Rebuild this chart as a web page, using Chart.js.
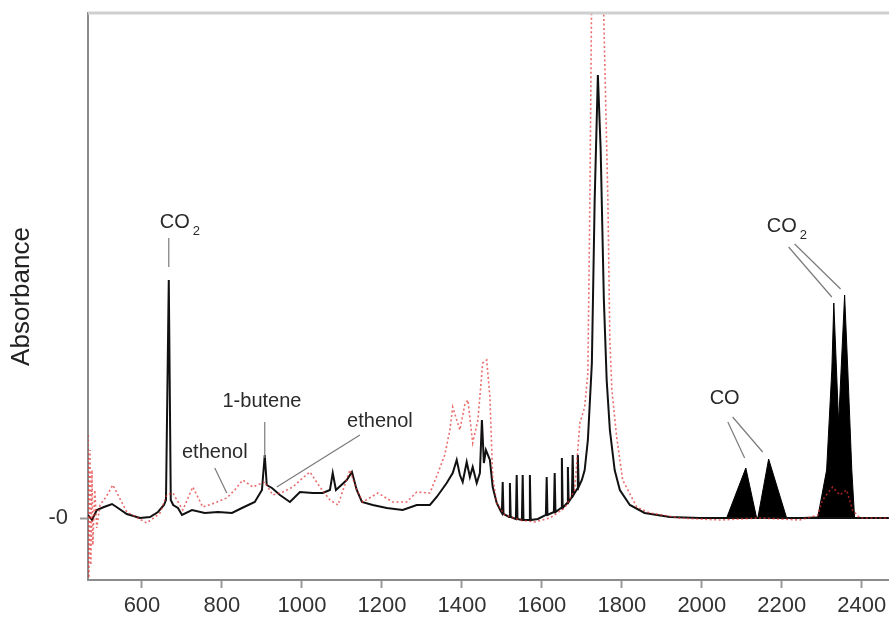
<!DOCTYPE html>
<html>
<head>
<meta charset="utf-8">
<script src="https://cdn.jsdelivr.net/npm/chart.js@4.4.0/dist/chart.umd.min.js"></script>
<style>
  html, body { margin: 0; padding: 0; background: #fff; }
  #wrap { width: 889px; height: 621px; position: relative; }
</style>
</head>
<body>
<div id="wrap"><canvas id="spectrum"></canvas></div>
<script>
/* ─── Data ───────────────────────────────────────────────────────────────── */
// black trace (wavenumber / absorbance)
const BLACK_WN = [465, 475, 487, 505, 525, 540, 562, 595, 620, 640, 655, 660, 667, 672, 678, 690, 700,
  725, 757, 790, 825, 850, 882, 900, 907, 912, 925, 945, 970, 995, 1027, 1052, 1070, 1077, 1085,
  1112, 1125, 1137, 1150, 1177, 1212, 1252, 1287, 1320, 1337, 1362, 1377, 1387, 1395, 1402, 1412,
  1420, 1427, 1437, 1445, 1450, 1455, 1460, 1470, 1477, 1487, 1497, 1500, 1502, 1504, 1518, 1520,
  1522, 1535, 1537, 1539, 1550, 1552, 1554, 1568, 1570, 1572, 1590, 1610, 1612, 1614, 1630, 1632,
  1634, 1648, 1650, 1652, 1663, 1665, 1667, 1675, 1677, 1679, 1688, 1690, 1692, 1700, 1707, 1715,
  1725, 1732, 1740, 1747, 1755, 1762, 1770, 1782, 1795, 1820, 1857, 1920, 1995, 2100, 2200, 2300,
  2400, 2468];
const BLACK_A = [0.03, -0.02, 0.08, 0.11, 0.14, 0.10, 0.04, 0.00, 0.01, 0.06, 0.13, 0.18, 2.38, 0.18, 0.13, 0.10, 0.03,
  0.08, 0.05, 0.06, 0.05, 0.10, 0.16, 0.28, 0.63, 0.33, 0.30, 0.23, 0.16, 0.26, 0.25, 0.25, 0.28, 0.45, 0.28,
  0.38, 0.46, 0.28, 0.16, 0.13, 0.10, 0.08, 0.13, 0.13, 0.21, 0.35, 0.45, 0.58, 0.43, 0.36, 0.56,
  0.41, 0.51, 0.35, 0.45, 0.98, 0.55, 0.68, 0.58, 0.31, 0.15, 0.07, 0.05, 0.36, 0.04, 0.01, 0.35,
  0.01, -0.01, 0.43, -0.01, -0.02, 0.43, -0.02, -0.02, 0.43, -0.02, -0.01, 0.03, 0.41, 0.03, 0.06, 0.45,
  0.06, 0.10, 0.60, 0.10, 0.15, 0.51, 0.16, 0.21, 0.63, 0.23, 0.29, 0.63, 0.31, 0.38, 0.48, 0.78,
  1.55, 3.18, 4.43, 3.68, 2.18, 1.38, 0.88, 0.48, 0.28, 0.13, 0.05, 0.01, 0.00, 0.00, 0.00, 0.00,
  0.00, 0.00];

// red dotted trace
const RED_WN = [465, 467, 470, 472, 475, 477, 482, 487, 495, 510, 527, 540, 562, 612, 645, 662, 677,
  702, 727, 752, 782, 812, 832, 852, 877, 907, 927, 952, 977, 1002, 1020, 1045, 1070, 1090, 1120,
  1137, 1152, 1190, 1227, 1262, 1287, 1320, 1340, 1357, 1370, 1377, 1387, 1395, 1407, 1415, 1427,
  1440, 1452, 1462, 1470, 1477, 1487, 1507, 1545, 1582, 1620, 1657, 1682, 1695, 1707, 1715, 1720,
  1725, 1737, 1752, 1765, 1770, 1775, 1787, 1802, 1837, 1870, 1945, 2045, 2145, 2245, 2290, 2302,
  2327, 2345, 2362, 2377, 2395, 2468];
const RED_A = [0.83, -0.60, 0.68, -0.47, 0.48, -0.27, 0.28, -0.10, 0.13, 0.21, 0.33, 0.23, 0.06, -0.05, 0.05, 0.23, 0.25,
  0.08, 0.31, 0.11, 0.15, 0.20, 0.28, 0.38, 0.31, 0.36, 0.23, 0.26, 0.31, 0.40, 0.46, 0.31, 0.18, 0.13, 0.48,
  0.28, 0.16, 0.25, 0.16, 0.16, 0.26, 0.25, 0.45, 0.63, 0.88, 1.11, 0.98, 0.88, 1.13, 1.18, 0.75,
  0.98, 1.55, 1.58, 1.21, 0.41, 0.15, 0.03, -0.02, -0.04, 0.00, 0.10, 0.28, 0.95, 1.11, 1.45, 3.18,
  5.50, 6.20, 5.50, 3.18, 1.78, 1.28, 0.81, 0.38, 0.11, 0.05, 0.00, -0.02, 0.00, -0.02, 0.03, 0.18,
  0.31, 0.23, 0.28, 0.08, 0.00, 0.00];

// CO and CO2 rotational bands (drawn filled)
const BAND_WN = [2062, 2110, 2137, 2140, 2167, 2212, 2290, 2312, 2325, 2330, 2342, 2357, 2365, 2375, 2382];
const BAND_A  = [0.00, 0.50, 0.00, 0.00, 0.59, 0.00, 0.01, 0.48, 1.48, 2.15, 0.95, 2.23, 1.48, 0.48, 0.00];

const X_TICKS = [600, 800, 1000, 1200, 1400, 1600, 1800, 2000, 2200, 2400];
const Y_TICKS = [0];

// peak labels: text anchor and leader lines, in data units
const LABELS = [
  { text: 'CO', sub: '2', at: [682, 2.96], lines: [[[667, 2.80], [667, 2.51]]] },
  { text: 'ethenol',      at: [782, 0.66], lines: [[[782, 0.50], [812, 0.25]]] },
  { text: '1-butene',     at: [900, 1.17], lines: [[[907, 0.96], [907, 0.60]]] },
  { text: 'ethenol',      at: [1195, 0.97], lines: [[[1145, 0.83], [937, 0.31]]] },
  { text: 'CO',           at: [2057, 1.20], lines: [[[2065, 0.96], [2107, 0.60]], [[2077, 1.01], [2152, 0.66]]] },
  { text: 'CO', sub: '2', at: [2200, 2.92], lines: [[[2217, 2.71], [2325, 2.21]], [[2232, 2.74], [2347, 2.29]]] }
];

/* ─── Helpers ────────────────────────────────────────────────────────────── */
const FONT = 'Arial, "Liberation Sans", sans-serif';
const pts  = (xs, ys) => xs.map((x, i) => ({ x, y: ys[i] }));

const labelPlugin = {
  id: 'peakLabels',
  afterDatasetsDraw(chart) {
    const { ctx, chartArea: a, scales: { x, y } } = chart;
    ctx.save();
    // light frame line along the top
    ctx.strokeStyle = '#cfcfcf';
    ctx.lineWidth = 3;
    ctx.beginPath();
    ctx.moveTo(a.left, a.top);
    ctx.lineTo(a.right, a.top);
    ctx.stroke();

    ctx.strokeStyle = '#7a7a7a';
    ctx.lineWidth = 1.2;
    for (const l of LABELS) {
      for (const [p, q] of l.lines) {
        ctx.beginPath();
        ctx.moveTo(x.getPixelForValue(p[0]), y.getPixelForValue(p[1]));
        ctx.lineTo(x.getPixelForValue(q[0]), y.getPixelForValue(q[1]));
        ctx.stroke();
      }
      const px = x.getPixelForValue(l.at[0]);
      const py = y.getPixelForValue(l.at[1]);
      ctx.fillStyle = '#2a2a2a';
      ctx.font = `20px ${FONT}`;
      ctx.textAlign = 'center';
      ctx.textBaseline = 'middle';
      ctx.fillText(l.text, px, py);
      if (l.sub) {
        const w = ctx.measureText(l.text).width;
        ctx.font = `13px ${FONT}`;
        ctx.textAlign = 'left';
        ctx.fillText(l.sub, px + w / 2 + 3, py + 9);
      }
    }
    ctx.restore();
  }
};

/* ─── Render ─────────────────────────────────────────────────────────────── */
new Chart(document.getElementById('spectrum'), {
  type: 'line',
  data: {
    datasets: [
      {
        data: pts(RED_WN, RED_A),
        borderColor: 'rgba(225, 45, 45, 0.7)',
        borderWidth: 1.6,
        borderDash: [2, 2.5],
        pointRadius: 0,
        fill: false,
        order: 1
      },
      {
        data: pts(BLACK_WN, BLACK_A),
        borderColor: '#111',
        borderWidth: 2,
        pointRadius: 0,
        fill: false,
        order: 2
      },
      {
        data: pts(BAND_WN, BAND_A),
        borderColor: '#000',
        backgroundColor: '#000',
        borderWidth: 1,
        pointRadius: 0,
        fill: 'origin',
        order: 3
      }
    ]
  },
  options: {
    responsive: true,
    maintainAspectRatio: false,
    animation: false,
    layout: { padding: { top: 13, right: 0, left: 0, bottom: 0 } },
    plugins: { legend: { display: false }, tooltip: { enabled: false } },
    scales: {
      x: {
        type: 'linear',
        min: 465,
        max: 2468,
        afterBuildTicks: s => { s.ticks = X_TICKS.map(value => ({ value })); },
        afterFit: s => { s.height = 41; s.paddingLeft = 0; s.paddingRight = 0; },
        ticks: { color: '#333', font: { size: 22, family: FONT }, padding: 5, maxRotation: 0, autoSkip: false,
                 callback: v => String(v) },
        grid: { drawOnChartArea: false, drawTicks: true, tickLength: 8, tickWidth: 2, color: '#9a9a9a' },
        border: { color: '#8c8c8c', width: 2 }
      },
      y: {
        min: -0.62,
        max: 5.05,
        afterBuildTicks: s => { s.ticks = Y_TICKS.map(value => ({ value })); },
        afterFit: s => { s.width = 88; s.paddingTop = 0; s.paddingBottom = 0; },
        ticks: { color: '#333', font: { size: 22, family: FONT }, padding: 12, callback: () => '-0' },
        grid: { drawOnChartArea: false, drawTicks: true, tickLength: 8, tickWidth: 2, color: '#9a9a9a' },
        border: { color: '#8c8c8c', width: 2 },
        title: { display: true, text: 'Absorbance', color: '#222', font: { size: 26, family: FONT }, padding: { top: 6, bottom: 0 } }
      }
    }
  },
  plugins: [labelPlugin]
});
</script>
</body>
</html>
